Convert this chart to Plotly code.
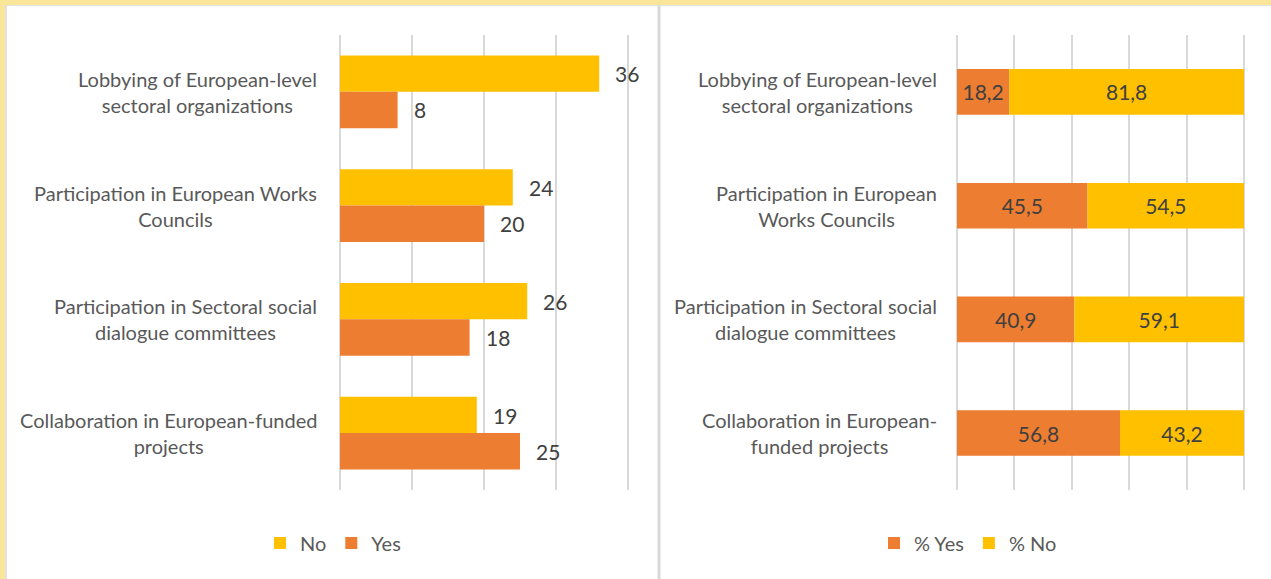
import plotly.graph_objects as go

# --- data ---------------------------------------------------------------
categories = [
    "Lobbying of European-level<br>sectoral organizations",
    "Participation in European Works<br>Councils",
    "Participation in Sectoral social<br>dialogue committees",
    "Collaboration in European-funded<br>projects",
]
categories_right = [
    "Lobbying of European-level<br>sectoral organizations",
    "Participation in European<br>Works Councils",
    "Participation in Sectoral social<br>dialogue committees",
    "Collaboration in European-<br>funded projects",
]
count_no = [36, 24, 26, 19]
count_yes = [8, 20, 18, 25]
pct_yes = [18.2, 45.5, 40.9, 56.8]
pct_no = [81.8, 54.5, 59.1, 43.2]

# --- styling ------------------------------------------------------------
W, H = 1271, 579
YELLOW = "#FFC000"
ORANGE = "#ED7D31"
GRID = "#D9D9D9"
LABEL = "#595959"
VALUE = "#404040"
FONT = "Lato"


def px_x(p):
    return p / W


def px_y(p):
    return 1 - p / H


def fmt(v):
    return f"{v:.1f}".replace(".", ",")


def padded_axis(left_px, right_px, vmax, pad):
    """Domain and range padded a little so the edge gridlines are drawn."""
    scale = (right_px - left_px) / vmax
    dom = [px_x(left_px - pad * scale), px_x(right_px + pad * scale)]
    return dom, [-pad, vmax + pad]


idx = list(range(len(categories)))

fig = go.Figure()

# left panel: counts, grouped horizontal bars
fig.add_trace(go.Bar(
    name="No", y=idx, x=count_no, orientation="h",
    width=0.32, offset=-0.32, marker_color=YELLOW, marker_line_width=0,
    xaxis="x", yaxis="y", legend="legend", hoverinfo="x",
))
fig.add_trace(go.Bar(
    name="Yes", y=idx, x=count_yes, orientation="h",
    width=0.32, offset=0.0, marker_color=ORANGE, marker_line_width=0,
    xaxis="x", yaxis="y", legend="legend", hoverinfo="x",
))

# right panel: percentages, stacked to 100
fig.add_trace(go.Bar(
    name="% Yes", y=idx, x=pct_yes, orientation="h",
    width=0.4, offset=-0.2, marker_color=ORANGE, marker_line_width=0,
    text=[fmt(v) for v in pct_yes], textposition="inside",
    insidetextanchor="middle", textangle=0, constraintext="none",
    textfont=dict(family=FONT, size=21, color=VALUE),
    xaxis="x2", yaxis="y2", legend="legend2", hoverinfo="x",
))
fig.add_trace(go.Bar(
    name="% No", y=idx, x=pct_no, base=pct_yes, orientation="h",
    width=0.4, offset=-0.2, marker_color=YELLOW, marker_line_width=0,
    text=[fmt(v) for v in pct_no], textposition="inside",
    insidetextanchor="middle", textangle=0, constraintext="none",
    textfont=dict(family=FONT, size=21, color=VALUE),
    xaxis="x2", yaxis="y2", legend="legend2", hoverinfo="x",
))

annotations = []
# category labels, right-anchored blocks with centred lines
for i, (cl, cr) in enumerate(zip(categories, categories_right)):
    annotations.append(dict(
        text=cl, x=px_x(319), xref="paper", xanchor="right",
        y=i, yref="y", yanchor="middle", align="center", showarrow=False,
        font=dict(family=FONT, size=20, color=LABEL),
    ))
    annotations.append(dict(
        text=cr, x=px_x(939), xref="paper", xanchor="right",
        y=i, yref="y2", yanchor="middle", align="center", showarrow=False,
        font=dict(family=FONT, size=20, color=LABEL),
    ))
# value labels beside the count bars
for i in idx:
    for val, shift in ((count_no[i], 18), (count_yes[i], -18)):
        annotations.append(dict(
            text=str(val), x=val, xref="x", xanchor="left", xshift=14,
            y=i, yref="y", yanchor="middle", yshift=shift, showarrow=False,
            font=dict(family=FONT, size=21, color=VALUE),
        ))

# frame: yellow band at top/left, thin grey edges, divider between panels
shapes = [
    dict(type="rect", xref="paper", yref="paper", x0=0, x1=1,
         y0=px_y(5), y1=1, fillcolor="#F9E699", line_width=0, layer="below"),
    dict(type="rect", xref="paper", yref="paper", x0=0, x1=px_x(5),
         y0=0, y1=1, fillcolor="#F9E699", line_width=0, layer="below"),
    dict(type="rect", xref="paper", yref="paper", x0=px_x(5), x1=1,
         y0=px_y(6), y1=px_y(5), fillcolor="#E3E3E3", line_width=0, layer="below"),
    dict(type="rect", xref="paper", yref="paper", x0=px_x(5), x1=px_x(7),
         y0=0, y1=px_y(5), fillcolor="#E3E3E3", line_width=0, layer="below"),
    dict(type="rect", xref="paper", yref="paper", x0=px_x(657.5), x1=px_x(660.5),
         y0=0, y1=px_y(5), fillcolor=GRID, line_width=0, layer="below"),
]

plot_y = [px_y(490), px_y(35)]
xaxis_common = dict(
    showgrid=True, gridcolor=GRID, gridwidth=1.5, zeroline=False,
    showline=False, showticklabels=False, ticks="", fixedrange=True,
)
yaxis_common = dict(
    showgrid=False, zeroline=False, showline=False, showticklabels=False,
    ticks="", range=[3.5, -0.5], fixedrange=True,
)

dom1, rng1 = padded_axis(340, 628, 40, 0.2)
dom2, rng2 = padded_axis(957, 1244, 100, 0.5)

fig.update_layout(
    width=W, height=H,
    margin=dict(l=0, r=0, t=0, b=0),
    paper_bgcolor="white", plot_bgcolor="rgba(0,0,0,0)",
    barmode="overlay",
    font=dict(family=FONT, color=LABEL),
    xaxis=dict(domain=dom1, range=rng1, tick0=0, dtick=10,
               anchor="y", **xaxis_common),
    yaxis=dict(domain=plot_y, anchor="x", **yaxis_common),
    xaxis2=dict(domain=dom2, range=rng2, tick0=0, dtick=20,
                anchor="y2", **xaxis_common),
    yaxis2=dict(domain=plot_y, anchor="x2", **yaxis_common),
    legend=dict(orientation="h", x=px_x(333), xanchor="center", y=px_y(543),
                yanchor="middle", font=dict(family=FONT, size=20, color=LABEL),
                bgcolor="rgba(0,0,0,0)", traceorder="normal"),
    legend2=dict(orientation="h", x=px_x(968), xanchor="center", y=px_y(543),
                 yanchor="middle", font=dict(family=FONT, size=20, color=LABEL),
                 bgcolor="rgba(0,0,0,0)", traceorder="normal"),
    annotations=annotations,
    shapes=shapes,
)

fig.write_html("out.html")
